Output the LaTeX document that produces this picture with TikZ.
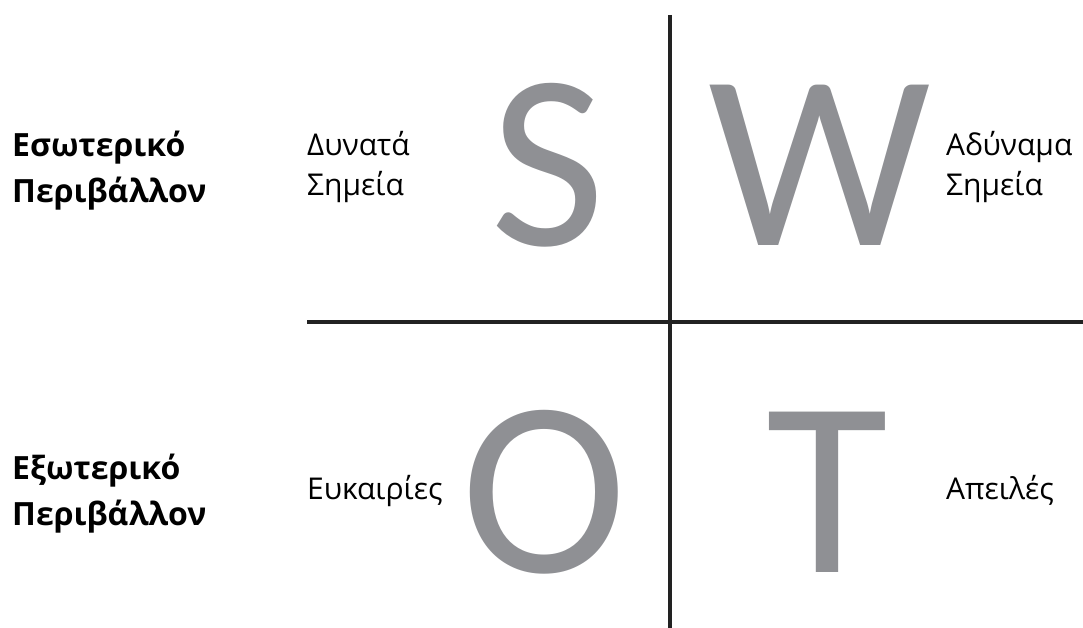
\documentclass[tikz,border=0pt]{standalone}
\usepackage{fontspec}
\setmainfont{Open Sans}
\newfontfamily\bigfont{Carlito}
\definecolor{lettergray}{HTML}{8F9094}
\definecolor{linecol}{HTML}{222222}
\begin{document}
\begin{tikzpicture}[x=1pt,y=-1pt,
  axis/.style={draw=linecol,line width=3.5pt},
  biglet/.style={text=lettergray,font=\bigfont\fontsize{250}{250}\selectfont,inner sep=0pt,anchor=base},
  envlabel/.style={font=\bfseries\fontsize{32}{46}\selectfont,align=left,inner sep=0pt,anchor=base west},
  quadlabel/.style={font=\fontsize{30}{40}\selectfont,align=left,inner sep=0pt,anchor=base west}]
\useasboundingbox (0,0) rectangle (1083,628);
\coordinate (vtop) at (670,15);
\coordinate (vbot) at (670,628);
\coordinate (hleft) at (307,322);
\coordinate (hright) at (1083,322);
\draw[axis] (vtop) -- (vbot);
\draw[axis] (hleft) -- (hright);
\node[biglet] (S) at (548,245) {S};
\node[biglet] (W) at (820,245) {W};
\node[biglet] (O) at (544,572) {O};
\node[biglet] (T) at (827,572) {T};
\node[envlabel] (int) at (12,203) {Εσωτερικό\\Περιβάλλον};
\node[envlabel] (ext) at (12,525) {Εξωτερικό\\Περιβάλλον};
\node[quadlabel] (str) at (307,196) {Δυνατά\\Σημεία};
\node[quadlabel] (weak) at (946,196) {Αδύναμα\\Σημεία};
\node[quadlabel] (opp) at (307,499) {Ευκαιρίες};
\node[quadlabel] (thr) at (946,499) {Απειλές};
\end{tikzpicture}
\end{document}
